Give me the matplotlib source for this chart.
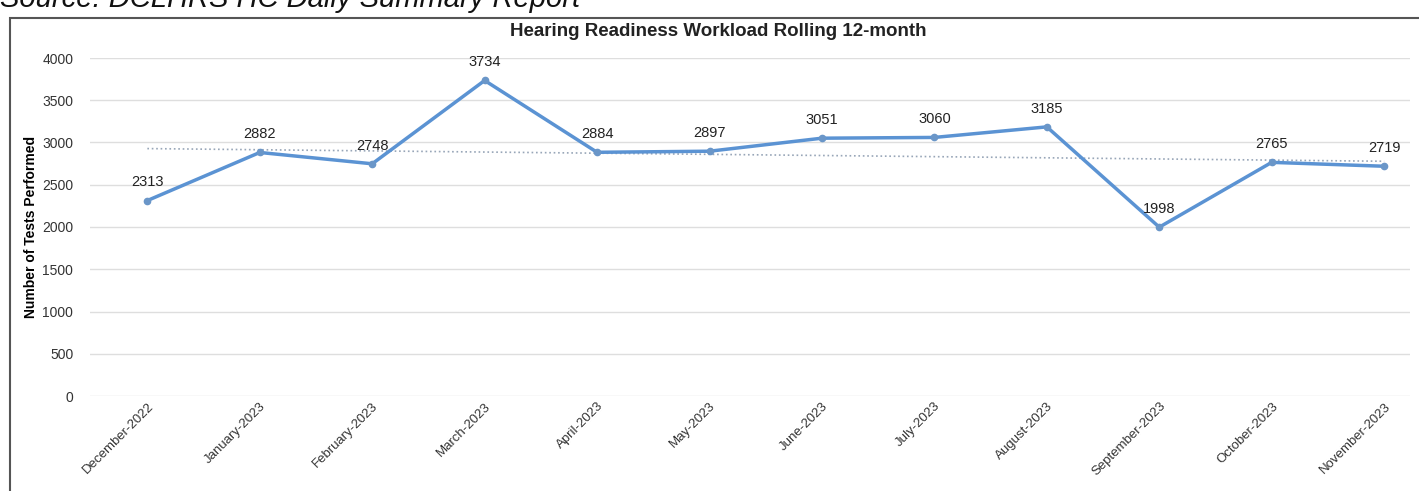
import numpy as np
import matplotlib
matplotlib.use("Agg")
import matplotlib.pyplot as plt
from matplotlib.patches import Rectangle

plt.rcParams['font.family'] = ['Liberation Sans', 'DejaVu Sans']

# data
months = ['December-2022', 'January-2023', 'February-2023', 'March-2023', 'April-2023',
          'May-2023', 'June-2023', 'July-2023', 'August-2023', 'September-2023',
          'October-2023', 'November-2023']
tests = [2313, 2882, 2748, 3734, 2884, 2897, 3051, 3060, 3185, 1998, 2765, 2719]

x = np.arange(len(months))

fig = plt.figure(figsize=(14.19, 4.91), dpi=100)
ax = fig.add_axes([90 / 1419, 1 - 396 / 491, 1320 / 1419, 338 / 491])

# linear trendline (like Excel)
k, b = np.polyfit(x, tests, 1)
ax.plot(x, k * x + b, linestyle=':', color='#98a6b8', linewidth=1.2, zorder=2)

ax.plot(x, tests, color='#5b93d3', linewidth=2.5, marker='o', markersize=4.5,
        markerfacecolor='#6a96c8', markeredgecolor='#6a96c8', zorder=3)
for xi, v in zip(x, tests):
    ax.annotate(str(v), (xi, v), xytext=(0, 8), textcoords='offset points',
                ha='center', va='bottom', fontsize=10.5, color='#222222')

ax.set_xlim(-0.51, 11.23)
ax.set_ylim(0, 4000)
ax.set_yticks(range(0, 4001, 500))
ax.grid(axis='y', color='#dedede', linewidth=1)
ax.set_axisbelow(True)
for s in ax.spines.values():
    s.set_visible(False)
ax.tick_params(length=0)
ax.tick_params(axis='y', labelsize=10, labelcolor='#333333', pad=12)
ax.set_xticks(x)
ax.set_xticklabels(months, rotation=45, ha='right', rotation_mode='anchor',
                   fontsize=9.5, color='#333333')
ax.tick_params(axis='x', pad=3)
ax.set_ylabel('Number of Tests Performed', fontsize=10, fontweight='bold', labelpad=3)

fig.text(718 / 1419, 1 - 31 / 491, 'Hearing Readiness Workload Rolling 12-month',
         ha='center', va='center', fontsize=13.5, fontweight='bold', color='#222222')

# chart border
fig.patches.append(Rectangle((10 / 1419, -0.02), 1.2, 1 - 18 / 491 + 0.02,
                             transform=fig.transFigure, fill=False,
                             edgecolor='#555555', linewidth=1.5))

fig.text(0.0, 1 - 7 / 491, 'Source: DCLHRS HC Daily Summary Report', ha='left',
         va='baseline', fontsize=21, style='italic', color='#111111')

fig.savefig('out.png', dpi=100)
